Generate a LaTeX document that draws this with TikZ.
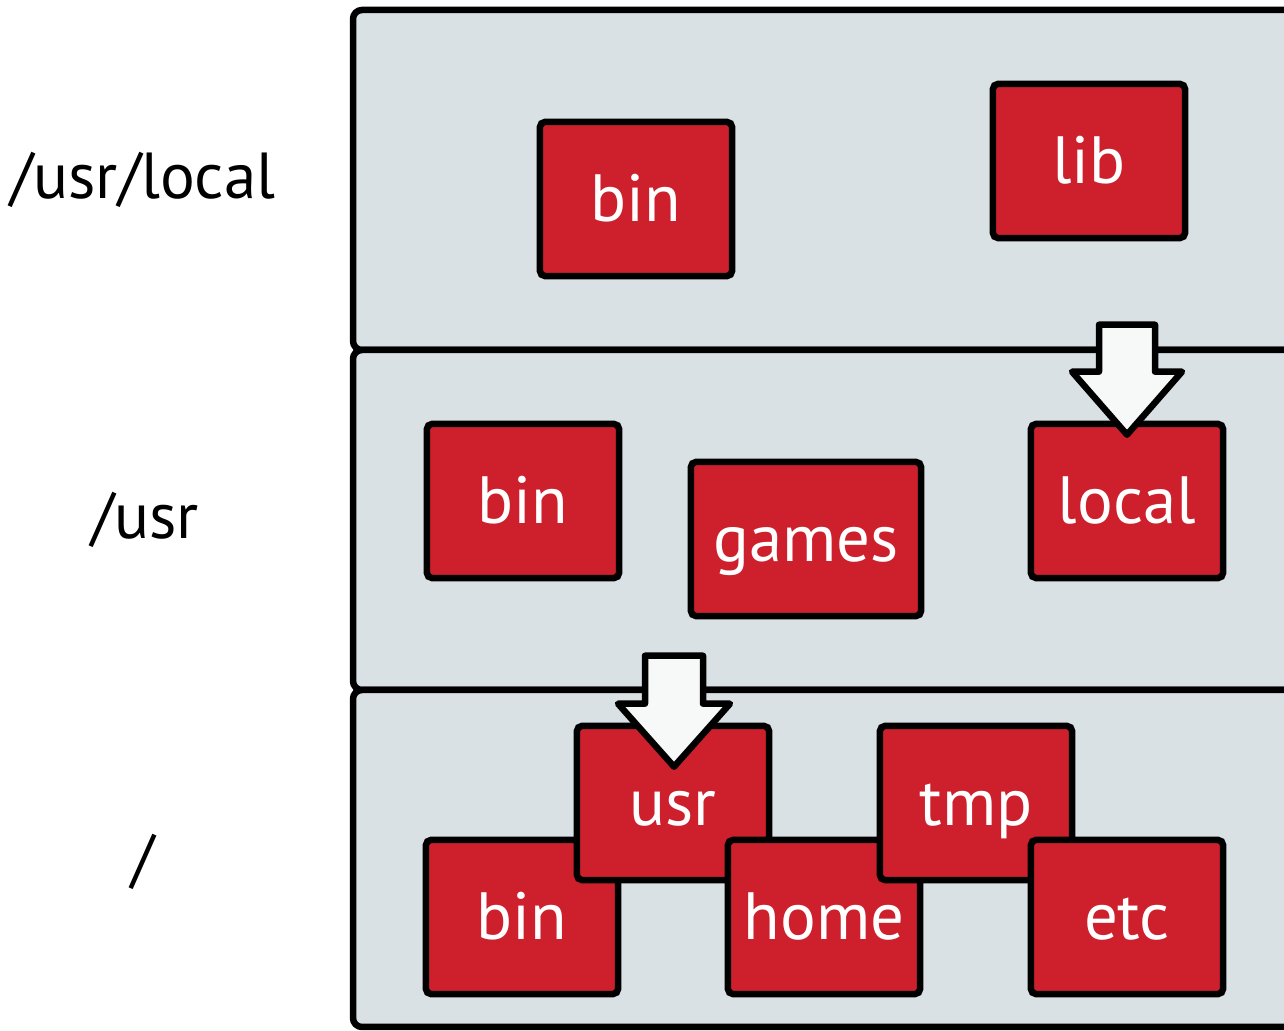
\documentclass[tikz,border=0pt]{standalone}
\usepackage{fontspec}
\setmainfont{PT Sans}
\usepackage{xcolor}
\definecolor{panelgray}{RGB}{218,225,229}
\definecolor{dirred}{RGB}{205,32,44}
\definecolor{arrowwhite}{RGB}{247,249,249}
\usetikzlibrary{calc}

\begin{document}
\begin{tikzpicture}[x=0.01cm, y=-0.01cm,
        layer/.style={draw=black, fill=panelgray, line width=0.065cm, rounded corners=0.09cm},
        dirbox/.style={rectangle, draw=black, fill=dirred, line width=0.065cm, rounded corners=0.05cm, minimum width=1.92cm, minimum height=1.54cm, text height=0.5cm, text depth=0.06cm, text=white, font=\fontsize{19}{22}\selectfont},
        mountarrow/.style={draw=black, fill=arrowwhite, line width=0.065cm, line join=round},
        lbl/.style={font=\fontsize{18.5}{22}\selectfont}
    ]
        \useasboundingbox (0,0) rectangle (1284,1031);
        \begin{scope}
            \clip (0,0) rectangle (1284,1031);
            \draw[layer] (353,10) rectangle (1400,350);
            \draw[layer] (353,350) rectangle (1400,690);
            \draw[layer] (353,690) rectangle (1400,1027);

            % /usr/local
            \node[dirbox] (lbin) at (636,199) {bin};
            \node[dirbox] (llib) at (1089,161) {lib};

            % /usr
            \node[dirbox] (ubin) at (523,501) {bin};
            \node[dirbox, minimum width=2.30cm] (games) at (806,539) {games};
            \node[dirbox] (local) at (1127,501) {local};

            % /
            \node[dirbox] (rbin) at (522,917) {bin};
            \node[dirbox] (usr) at (673,803) {usr};
            \node[dirbox] (home) at (824,917) {home};
            \node[dirbox] (tmp) at (976,803) {tmp};
            \node[dirbox] (etc) at (1127,917) {etc};

            \draw[mountarrow] ($(local.north)+(0,14)$) -- ++(-55,-63) -- ++(27,0) -- ++(0,-47) -- ++(56,0) -- ++(0,47) -- ++(27,0) -- cycle;
            \draw[mountarrow] ($(usr.north)+(1,44)$) -- ++(-56,-63) -- ++(27,0) -- ++(0,-48) -- ++(58,0) -- ++(0,48) -- ++(27,0) -- cycle;
        \end{scope}

        \node[lbl] (tlocal) at (143,180) {/usr/local};
        \node[lbl] (tusr) at (145,520) {/usr};
        \node[lbl] (troot) at (143,862) {/};
    \end{tikzpicture}
\end{document}
